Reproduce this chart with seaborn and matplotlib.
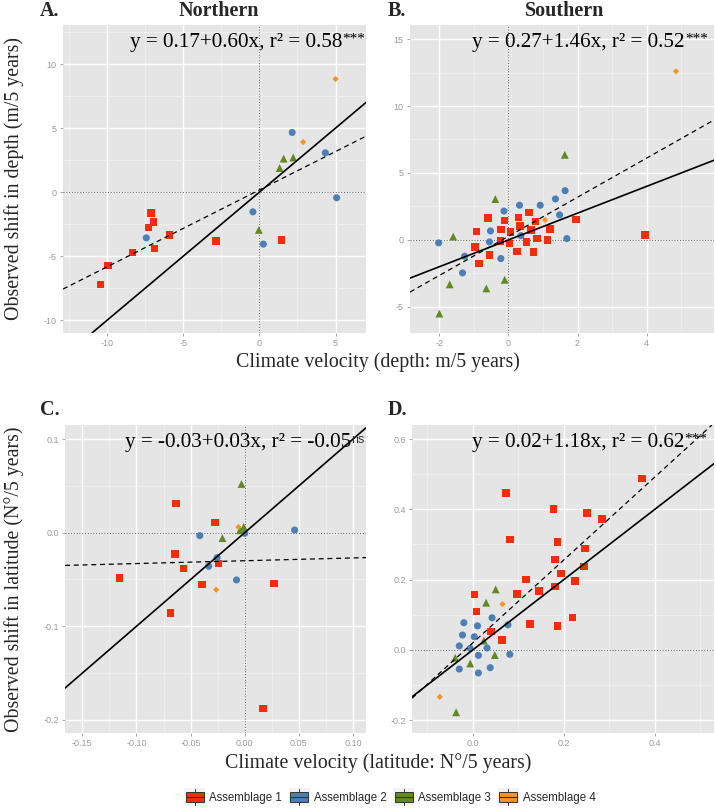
import matplotlib
matplotlib.use("Agg")
import matplotlib.pyplot as plt
import seaborn as sns
import pandas as pd
from matplotlib.ticker import MultipleLocator, FormatStrFormatter
from matplotlib.legend_handler import HandlerBase
from matplotlib.patches import Rectangle, Patch
from matplotlib.lines import Line2D

# ---- data ----
groups = ["Assemblage 1", "Assemblage 2", "Assemblage 3", "Assemblage 4"]
colors = ["#F32D0C", "#4A80B5", "#5F8A22", "#F7931E"]

# A. Northern, depth
depth_n_x = [-10.43, -9.96, -8.33, -7.28, -7.11, -6.96, -6.89, -5.91, -2.87, 1.46,
             -7.43, -0.43, 0.26, 2.15, 4.33, 5.07,
             -0.04, 1.33, 1.59, 2.22,
             2.87, 5.00]
depth_n_y = [-7.21, -5.73, -4.71, -2.76, -1.64, -2.32, -4.40, -3.36, -3.80, -3.75,
             -3.57, -1.54, -4.06, 4.66, 3.07, -0.44,
             -2.95, 1.88, 2.62, 2.70,
             3.91, 8.83]
depth_n_grp = [1, 1, 1, 1, 1, 1, 1, 1, 1, 1,
               2, 2, 2, 2, 2, 2,
               3, 3, 3, 3,
               4, 4]

# B. Southern, depth
depth_s_x = [-0.93, -0.96, -0.86, -0.60, -0.55, -0.22, -0.23, -0.12, 0.06, 0.03, 0.24, 0.29,
             0.33, 0.52, 0.60, 0.65, 0.72, 0.78, 0.82, 1.13, 1.20, 1.95, 3.96,
             -2.02, -1.27, -1.33, -0.52, -0.55, -0.22, -0.13, 0.32, 0.36, 0.92, 1.36, 1.48, 1.64, 1.69,
             -2.00, -1.60, -1.70, -0.64, -0.38, -0.11, 1.63,
             1.06, 4.85]
depth_s_y = [0.62, -0.52, -1.77, 1.62, -1.14, 0.77, -0.10, 1.44, 0.57, -0.27, -0.87, 1.67,
             1.02, -0.17, 2.04, 0.75, -0.92, 1.37, 0.12, -0.02, 0.80, 1.52, 0.37,
             -0.22, -1.22, -2.46, 0.67, -0.15, -1.39, 2.16, 2.59, 0.32, 2.59, 3.06, 1.87, 3.68, 0.10,
             -5.50, 0.25, -3.32, -3.62, 3.05, -2.98, 6.36,
             1.49, 12.59]
depth_s_grp = [1, 1, 1, 1, 1, 1, 1, 1, 1, 1, 1, 1,
               1, 1, 1, 1, 1, 1, 1, 1, 1, 1, 1,
               2, 2, 2, 2, 2, 2, 2, 2, 2, 2, 2, 2, 2, 2,
               3, 3, 3, 3, 3, 3, 3,
               4, 4]

# C. Northern, latitude
lat_n_x = [-0.1155, -0.0685, -0.0645, -0.0633, -0.0567, -0.0397, -0.0273, -0.0242, 0.0167, 0.0270,
           -0.0415, -0.0333, -0.0255, -0.0076, 0.0000, 0.0461,
           -0.0206, -0.0030, -0.0045, -0.0009,
           -0.0058, -0.0264]
lat_n_y = [-0.0484, -0.0861, -0.0231, 0.0310, -0.0384, -0.0555, 0.0110, -0.0331, -0.1879, -0.0541,
           -0.0032, -0.0359, -0.0267, -0.0505, -0.0007, 0.0028,
           -0.0058, 0.0520, 0.0025, 0.0062,
           0.0060, -0.0609]
lat_n_grp = [1, 1, 1, 1, 1, 1, 1, 1, 1, 1,
             2, 2, 2, 2, 2, 2,
             3, 3, 3, 3,
             4, 4]

# D. Southern, latitude
lat_s_x = [0.003, 0.008, 0.040, 0.064, 0.073, 0.082, 0.097, 0.117, 0.126, 0.145, 0.177, 0.180,
           0.181, 0.186, 0.186, 0.193, 0.219, 0.225, 0.244, 0.247, 0.251, 0.284, 0.372,
           -0.030, -0.030, -0.023, -0.020, -0.006, 0.003, 0.010, 0.012, 0.012, 0.031, 0.038, 0.042, 0.077, 0.081,
           -0.039, -0.037, -0.006, 0.024, 0.029, 0.048, 0.050,
           -0.073, 0.065]
lat_s_y = [0.157, 0.109, 0.052, 0.028, 0.447, 0.314, 0.159, 0.200, 0.073, 0.167, 0.401, 0.257,
           0.180, 0.307, 0.068, 0.217, 0.092, 0.196, 0.237, 0.288, 0.390, 0.372, 0.488,
           -0.055, 0.011, 0.042, 0.077, 0.004, 0.037, 0.068, -0.016, -0.066, 0.005, -0.051, 0.091, 0.071, -0.013,
           -0.023, -0.178, -0.039, 0.026, 0.134, -0.015, 0.172,
           -0.134, 0.130]
lat_s_grp = [1, 1, 1, 1, 1, 1, 1, 1, 1, 1, 1, 1,
             1, 1, 1, 1, 1, 1, 1, 1, 1, 1, 1,
             2, 2, 2, 2, 2, 2, 2, 2, 2, 2, 2, 2, 2, 2,
             3, 3, 3, 3, 3, 3, 3,
             4, 4]

# fitted regressions (intercept, slope) and the 1:1 reference line
fit_intercept = [0.17, 0.27, -0.03, 0.02]
fit_slope = [0.60, 1.46, 0.03, 1.18]
equations = ["y = 0.17+0.60x, r² = 0.58",
             "y = 0.27+1.46x, r² = 0.52",
             "y = -0.03+0.03x, r² = -0.05",
             "y = 0.02+1.18x, r² = 0.62"]
signif = ["***", "***", "ns", "***"]

# ---- style ----
sns.set_theme(style="darkgrid")
plt.rcParams.update({
    "axes.facecolor": "#E5E5E5",
    "grid.color": "white",
    "axes.unicode_minus": False,
})
plt.rcParams["font.family"] = ["Liberation Serif", "DejaVu Serif"]

W, H = 716, 811
fig = plt.figure(figsize=(W / 100, H / 100), dpi=100)


def box(l, t, r, b):
    return [l / W, 1 - b / H, (r - l) / W, (b - t) / H]


panels = [
    dict(pos=box(63, 25, 366, 333), x=depth_n_x, y=depth_n_y, g=depth_n_grp,
         xlim=(-12.9, 7.0), ylim=(-11.0, 13.05), xmaj=5, xmin=2.5, ymaj=5, ymin=2.5,
         xfmt="%g", yfmt="%g", vline=True, tx=0.57),
    dict(pos=box(410, 25, 714, 333), x=depth_s_x, y=depth_s_y, g=depth_s_grp,
         xlim=(-2.85, 5.95), ylim=(-6.95, 16.05), xmaj=2, xmin=1, ymaj=5, ymin=2.5,
         xfmt="%g", yfmt="%g", vline=True, tx=0.555),
    dict(pos=box(65, 425, 366, 733), x=lat_n_x, y=lat_n_y, g=lat_n_grp,
         xlim=(-0.166, 0.112), ylim=(-0.214, 0.115), xmaj=0.05, xmin=0.025, ymaj=0.1, ymin=0.05,
         xfmt="%.2f", yfmt="%.1f", vline=True, tx=0.575),
    dict(pos=box(412, 425, 714, 733), x=lat_s_x, y=lat_s_y, g=lat_s_grp,
         xlim=(-0.134, 0.53), ylim=(-0.237, 0.64), xmaj=0.2, xmin=0.1, ymaj=0.2, ymin=0.1,
         xfmt="%.1f", yfmt="%.1f", vline=False, tx=0.55),
]

markers = dict(zip(groups, ["s", "o", "^", "D"]))
sizes = dict(zip(groups, [30, 26, 32, 10]))
palette = dict(zip(groups, colors))

for i, p in enumerate(panels):
    ax = fig.add_axes(p["pos"])
    df = pd.DataFrame({"x": p["x"], "y": p["y"],
                       "grp": [groups[k - 1] for k in p["g"]]})
    sns.scatterplot(data=df, x="x", y="y", hue="grp", style="grp", size="grp",
                    hue_order=groups, style_order=groups, size_order=groups,
                    palette=palette, markers=markers, sizes=sizes,
                    linewidth=0, legend=False, ax=ax, zorder=2)
    ax.set_xlim(*p["xlim"])
    ax.set_ylim(*p["ylim"])
    ax.xaxis.set_major_locator(MultipleLocator(p["xmaj"]))
    ax.xaxis.set_minor_locator(MultipleLocator(p["xmin"]))
    ax.yaxis.set_major_locator(MultipleLocator(p["ymaj"]))
    ax.yaxis.set_minor_locator(MultipleLocator(p["ymin"]))
    ax.xaxis.set_major_formatter(FormatStrFormatter(p["xfmt"]))
    ax.yaxis.set_major_formatter(FormatStrFormatter(p["yfmt"]))
    ax.grid(which="major", color="white", lw=1.0)
    ax.grid(which="minor", color="#F2F2F2", lw=0.5)
    ax.set_axisbelow(True)
    ax.set_xlabel("")
    ax.set_ylabel("")
    for s in ax.spines.values():
        s.set_visible(False)
    ax.tick_params(which="major", colors="#999999", labelsize=6.5, length=2.5,
                   width=0.6, pad=2, bottom=True, left=True)
    ax.tick_params(which="minor", length=0)
    for lab in ax.get_xticklabels() + ax.get_yticklabels():
        lab.set_fontfamily("Liberation Sans")

    ax.axhline(0, color="#666666", ls=(0, (1, 1.5)), lw=0.8, zorder=1.5)
    if p["vline"]:
        ax.axvline(0, color="#666666", ls=(0, (1, 1.5)), lw=0.8, zorder=1.5)

    ax.axline((0, 0), slope=1, color="black", lw=1.2, zorder=3)
    ax.axline((0, fit_intercept[i]), slope=fit_slope[i], color="black", lw=0.9,
              ls=(0, (4, 3)), zorder=3)

    txt = ax.text(p["tx"], 0.928, equations[i], transform=ax.transAxes, ha="center",
                  va="baseline", fontsize=15.2, color="black", zorder=4)
    if signif[i] == "ns":
        ax.annotate(signif[i], xy=(1.0, 0.97), xycoords=txt, ha="left", va="top",
                    fontsize=9, family="Liberation Sans", color="#333333", zorder=4)
    else:
        ax.annotate(signif[i], xy=(1.0, 1.02), xycoords=txt, ha="left", va="top",
                    fontsize=11, color="black", zorder=4)

# panel letters and titles
fig.text(40 / W, 1 - 16 / H, "A.", fontsize=14.5, fontweight="bold")
fig.text(219 / W, 1 - 16 / H, "Northern", fontsize=14.5, fontweight="bold", ha="center")
fig.text(388 / W, 1 - 16 / H, "B.", fontsize=14.5, fontweight="bold")
fig.text(565 / W, 1 - 16 / H, "Southern", fontsize=14.5, fontweight="bold", ha="center")
fig.text(40 / W, 1 - 415 / H, "C.", fontsize=14.5, fontweight="bold")
fig.text(388 / W, 1 - 415 / H, "D.", fontsize=14.5, fontweight="bold")

# axis labels
fig.text(14 / W, 1 - 179 / H, "Observed shift in depth (m/5 years)", rotation=90,
         ha="center", va="center", fontsize=14.3)
fig.text(14 / W, 1 - 579 / H, "Observed shift in latitude (N°/5 years)", rotation=90,
         ha="center", va="center", fontsize=14.3)
fig.text(378 / W, 1 - 362 / H, "Climate velocity (depth: m/5 years)",
         ha="center", va="center", fontsize=14.3)
fig.text(378 / W, 1 - 763 / H, "Climate velocity (latitude: N°/5 years)",
         ha="center", va="center", fontsize=14.3)


class BoxKey(HandlerBase):
    def create_artists(self, legend, orig_handle, xdescent, ydescent, width,
                       height, fontsize, trans):
        c = orig_handle.get_facecolor()
        x0, y0 = -xdescent, -ydescent
        bg = Rectangle((x0, y0 - 0.35 * height), width, height * 1.7,
                       facecolor="#F2F2F2", edgecolor="none", transform=trans)
        whisk = Line2D([x0 + 0.5 * width] * 2, [y0 - 0.3 * height, y0 + 1.3 * height],
                       color="#333333", lw=0.7, transform=trans)
        rect = Rectangle((x0 + 0.06 * width, y0 + 0.05 * height), 0.88 * width,
                         0.9 * height, facecolor=c, edgecolor="#333333", lw=0.7,
                         transform=trans)
        mid = Line2D([x0 + 0.06 * width, x0 + 0.94 * width], [y0 + 0.5 * height] * 2,
                     color="#333333", lw=0.8, transform=trans)
        return [bg, whisk, rect, mid]


handles = [Patch(facecolor=c) for c in colors]
leg = fig.legend(handles, groups, loc="center", bbox_to_anchor=(390 / W, 1 - 798 / H),
                 ncol=4, frameon=False, handler_map={Patch: BoxKey()},
                 prop={"family": "Liberation Sans", "size": 8.3},
                 handlelength=1.8, handleheight=1.0, handletextpad=0.35,
                 columnspacing=0.6)

fig.savefig("out.png", dpi=100)
